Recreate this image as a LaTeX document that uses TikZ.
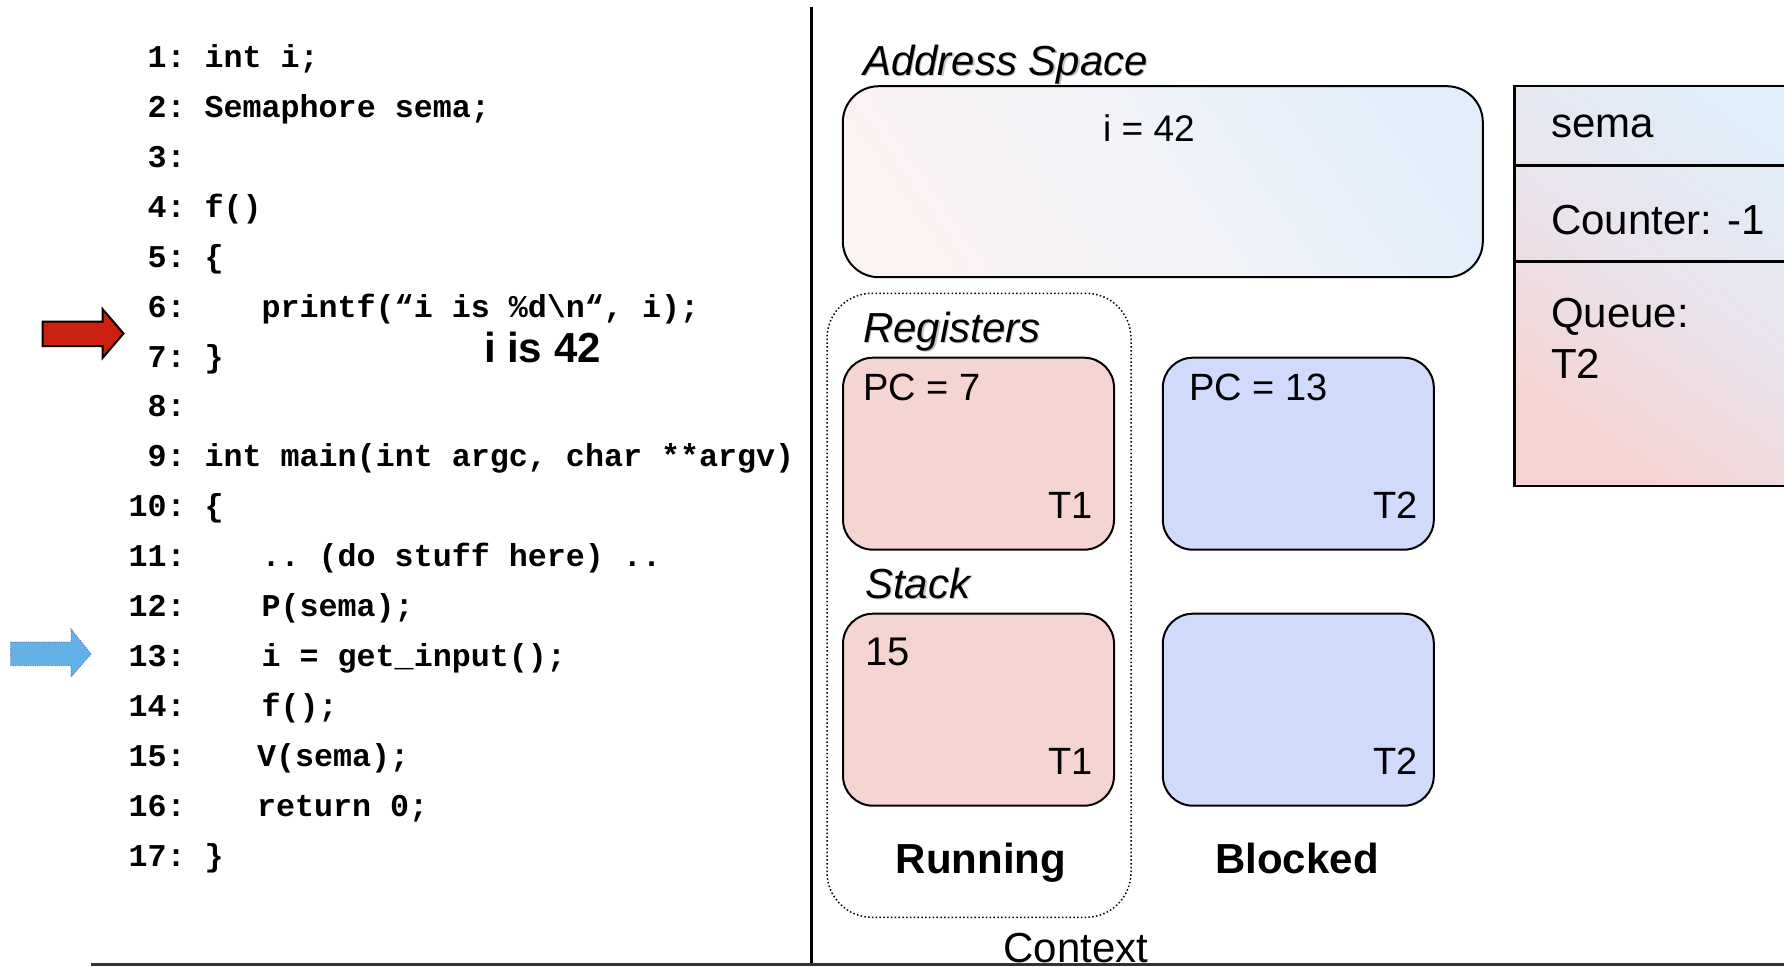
\documentclass[tikz,border=0pt]{standalone}
\usepackage{fontspec}
\setmainfont{Liberation Sans}
\setmonofont{Liberation Mono}
\definecolor{runfill}{HTML}{F5D5D2}
\definecolor{blkfill}{HTML}{D0DAFB}
\definecolor{asblue}{HTML}{E2EFFA}
\definecolor{asmid}{HTML}{F2F3F9}
\definecolor{aspink}{HTML}{FBF2F2}
\definecolor{smblue}{HTML}{DFEEF9}
\definecolor{smmid}{HTML}{EAE3EC}
\definecolor{smpink}{HTML}{F7D3D1}
\definecolor{pcred}{HTML}{CC2010}
\definecolor{pcblue}{HTML}{63B1E7}
\definecolor{pcblueedge}{HTML}{5A7EA6}
\newcommand\szmain{\fontsize{42pt}{50pt}\selectfont}
\newcommand\szlab{\fontsize{38pt}{45pt}\selectfont}
\newcommand\szcode{\fontsize{31.7pt}{38pt}\selectfont\ttfamily\bfseries}
\begin{document}
\begin{tikzpicture}[x=1pt,y=-1pt,
  lbl/.style={inner sep=0pt, outer sep=0pt},
  codeline/.style={lbl, anchor=base west, font=\szcode},
  lnum/.style={lbl, anchor=base east, font=\szcode},
  heading/.style={lbl, anchor=base west, font=\szmain\itshape},
  headshadow/.style={heading, text=black!45, opacity=0.5},
  plain/.style={lbl, font=\szmain},
  small/.style={lbl, font=\szlab},
  boldlbl/.style={lbl, anchor=base, font=\szmain\bfseries},
  regbox/.style={draw, line width=2pt, rounded corners=30pt, minimum width=271pt, minimum height=192pt, inner sep=0pt},
  runbox/.style={regbox, fill=runfill},
  blkbox/.style={regbox, fill=blkfill},
]
\useasboundingbox (0,0) rectangle (1784,966);
\clip (0,0) rectangle (1784,966);

% dividing rules
\coordinate (vtop) at (811,7);
\coordinate (vbot) at (811,966);
\draw[line width=3pt] (vtop) -- (vbot);
\coordinate (hl) at (91,964.5);
\coordinate (hr) at (1784,964.5);
\draw[line width=2.5pt, black!80] (hl) -- (hr);

% ---------------- source code ----------------
\node[lnum] (n1)  at (185.6,67.5)  {1:};
\node[lnum] (n2)  at (185.6,117.4) {2:};
\node[lnum] (n3)  at (185.6,167.3) {3:};
\node[lnum] (n4)  at (185.6,217.3) {4:};
\node[lnum] (n5)  at (185.6,267.2) {5:};
\node[lnum] (n6)  at (185.6,317.1) {6:};
\node[lnum] (n7)  at (185.6,367.0) {7:};
\node[lnum] (n8)  at (185.6,416.9) {8:};
\node[lnum] (n9)  at (185.6,466.9) {9:};
\node[lnum] (n10) at (185.6,516.8) {10:};
\node[lnum] (n11) at (185.6,566.7) {11:};
\node[lnum] (n12) at (185.6,616.6) {12:};
\node[lnum] (n13) at (185.6,666.5) {13:};
\node[lnum] (n14) at (185.6,716.5) {14:};
\node[lnum] (n15) at (185.6,766.4) {15:};
\node[lnum] (n16) at (185.6,816.3) {16:};
\node[lnum] (n17) at (185.6,866.2) {17:};

\node[codeline] (c1)  at (204.6,67.5)  {int i;};
\node[codeline] (c2)  at (204.6,117.4) {Semaphore sema;};
\node[codeline] (c4)  at (204.6,217.3) {f()};
\node[codeline] (c5)  at (204.6,267.2) {\{};
\node[codeline] (c6)  at (261.6,317.1) {printf(“i is \%d\textbackslash n“, i);};
\node[codeline] (c7)  at (204.6,367.0) {\}};
\node[codeline] (c9)  at (204.6,466.9) {int main(int argc, char **argv)};
\node[codeline] (c10) at (204.6,516.8) {\{};
\node[codeline] (c11) at (261.6,566.7) {.. (do stuff here) ..};
\node[codeline] (c12) at (261.6,616.6) {P(sema);};
\node[codeline] (c13) at (261.6,666.5) {i = get\_input();};
\node[codeline] (c14) at (261.6,716.5) {f();};
\node[codeline] (c15) at (257,766.4)   {V(sema);};
\node[codeline] (c16) at (257,816.3)   {return 0;};
\node[codeline] (c17) at (204.6,866.2) {\}};

% program output
\node[lbl, anchor=base west, font=\szmain\bfseries] (out) at (484,362) {i is 42};

% program counters of the two threads
\draw[line width=2pt, fill=pcred, line join=miter]
  (42.5,321.5) -- (102.5,321.5) -- (102.5,309) -- (123.5,333.5)
  -- (102.5,358) -- (102.5,346) -- (42.5,346) -- cycle;
\draw[line width=1pt, pcblueedge, dash pattern=on 1pt off 1.2pt, fill=pcblue]
  (10.5,642) -- (71,642) -- (71,629) -- (91,654)
  -- (71,677) -- (71,665.5) -- (10.5,665.5) -- cycle;

% ---------------- address space ----------------
\node[headshadow] at (864.5,76.5) {Address Space};
\node[heading] (ashead) at (863,75) {Address Space};
\node[draw, line width=2pt, rounded corners=36pt, minimum width=640pt, minimum height=191pt,
      top color=asblue, bottom color=aspink, middle color=asmid, shading angle=-55]
      (as) at (1162.8,181.7) {};
\node[lbl, anchor=base, font=\fontsize{37pt}{44pt}\selectfont] (ival) at (1149,141) {i = 42};

% ---------------- semaphore ----------------
\node[draw, line width=2.5pt, minimum width=300pt, minimum height=400pt, inner sep=0pt,
      top color=smblue, bottom color=smpink, middle color=smmid, shading angle=-35]
      (sema) at (1664.5,286) {};
\coordinate (d1l) at (1514.5,165.7);
\coordinate (d1r) at (1790,165.7);
\coordinate (d2l) at (1514.5,261.7);
\coordinate (d2r) at (1790,261.7);
\draw[line width=2.5pt] (d1l) -- (d1r);
\draw[line width=2.5pt] (d2l) -- (d2r);
\node[plain, anchor=base west] (semaname) at (1551,137) {sema};
\node[plain, anchor=base west] (counter) at (1551,234.3) {Counter: -1};
\node[plain, anchor=base west] (queue) at (1551,327) {Queue:};
\node[plain, anchor=base west] (qitem) at (1551,378) {T2};

% ---------------- thread contexts ----------------
\node[draw, line width=1.5pt, dash pattern=on 1.5pt off 2.3pt, rounded corners=45pt,
      minimum width=304pt, minimum height=624pt, inner sep=0pt] (ctx) at (979,605.3) {};

\node[headshadow] at (864.5,343.5) {Registers};
\node[heading] (reghead) at (863,342) {Registers};
\node[runbox] (reg1) at (978.5,453.7) {};
\node[blkbox] (reg2) at (1298.3,453.7) {};
\node[small, anchor=base west] (pc1) at (863,400) {PC = 7};
\node[small, anchor=base west] (pc2) at (1189,400) {PC = 13};
\node[small, anchor=base east] (rt1) at (1093,518.5) {T1};
\node[small, anchor=base east] (rt2) at (1418,518.5) {T2};

\node[headshadow] at (866.5,599.5) {Stack};
\node[heading] (stkhead) at (865,598) {Stack};
\node[runbox] (stk1) at (978.5,709.7) {};
\node[blkbox] (stk2) at (1298.3,709.7) {};
\node[lbl, anchor=base west, font=\fontsize{40pt}{47pt}\selectfont] (sp1) at (865,665) {15};
\node[small, anchor=base east] (st1) at (1093,774) {T1};
\node[small, anchor=base east] (st2) at (1418,774) {T2};

\node[boldlbl] (running) at (981,873.5) {Running};
\node[boldlbl] (blocked) at (1297,873.5) {Blocked};
\node[plain, anchor=base, text depth=0pt] (ctxlbl) at (1076,962) {Context};
\end{tikzpicture}
\end{document}
